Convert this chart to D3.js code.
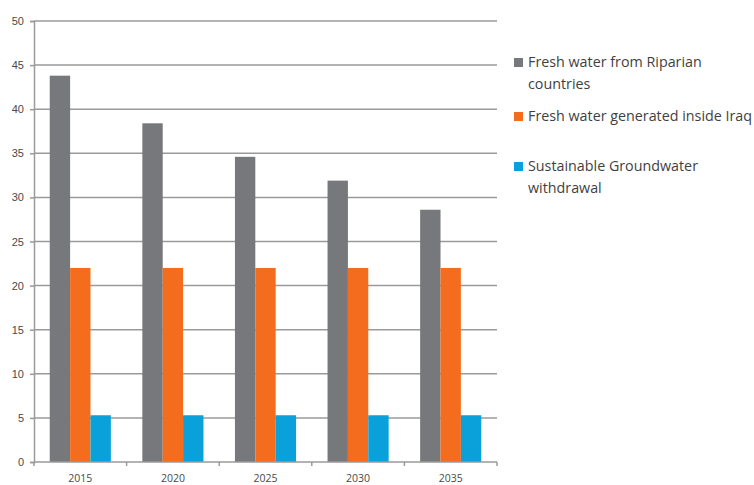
<!DOCTYPE html>
<html>
<head>
<meta charset="utf-8">
<script src="https://cdn.jsdelivr.net/npm/d3@7"></script>
<style>
  body { margin: 0; background: #fff; }
  svg { display: block; font-family: "Open Sans", "DejaVu Sans", sans-serif; }
</style>
</head>
<body>
<svg id="chart" width="754" height="485"></svg>
<script>
// chart values
const years = ['2015', '2020', '2025', '2030', '2035']
const riparian = [43.8, 38.4, 34.6, 31.9, 28.6]
const insideIraq = [22, 22, 22, 22, 22]
const groundwater = [5.3, 5.3, 5.3, 5.3, 5.3]
const yTicks = [0, 5, 10, 15, 20, 25, 30, 35, 40, 45, 50]

const seriesNames = [
  ['Fresh water from Riparian', 'countries'],
  ['Fresh water generated inside Iraq'],
  ['Sustainable Groundwater', 'withdrawal']
]
const seriesValues = [riparian, insideIraq, groundwater]
const colors = ['#77787b', '#f46d1e', '#0aa0da']

const margin = { top: 21, left: 34 },
  plotW = 463,
  plotH = 441

const svg = d3.select('#chart')
const g = svg.append('g').attr('transform', `translate(${margin.left},${margin.top})`)

const x = d3.scaleBand().domain(years).range([0, plotW]).paddingInner(0.34).paddingOuter(0.17)
const xSub = d3.scaleBand().domain(d3.range(seriesValues.length)).range([0, x.bandwidth()])
const y = d3.scaleLinear().domain([0, 50]).range([plotH, 0])

// gridlines
g.append('g')
  .selectAll('line')
  .data(yTicks.filter(d => d > 0))
  .join('line')
  .attr('x1', 0).attr('x2', plotW)
  .attr('y1', d => y(d)).attr('y2', d => y(d))
  .attr('stroke', '#9a9a9a').attr('stroke-width', 1.5)

// bars
const groups = g.append('g')
  .selectAll('g')
  .data(years)
  .join('g')
  .attr('transform', d => `translate(${x(d)},0)`)

groups.selectAll('rect')
  .data((yr, i) => seriesValues.map((s, k) => ({ k, v: s[i] })))
  .join('rect')
  .attr('x', d => xSub(d.k))
  .attr('width', xSub.bandwidth())
  .attr('y', d => y(d.v))
  .attr('height', d => plotH - y(d.v))
  .attr('fill', d => colors[d.k])

// y axis
const yAxis = g.append('g')
  .call(d3.axisLeft(y).tickValues(yTicks).tickSize(4).tickPadding(6))
yAxis.select('.domain').attr('stroke', '#9a9a9a').attr('stroke-width', 1.5)
yAxis.selectAll('.tick line').attr('stroke', '#9a9a9a').attr('stroke-width', 1.5)
yAxis.selectAll('text').attr('fill', '#4a4a4a').style('font-size', '11px')

// x axis (ticks sit at category boundaries)
const xAxisG = g.append('g').attr('transform', `translate(0,${plotH})`)
xAxisG.append('line')
  .attr('x1', 0).attr('x2', plotW)
  .attr('stroke', '#9a9a9a').attr('stroke-width', 1.5)
const step = plotW / years.length
xAxisG.selectAll('line.tk')
  .data(d3.range(years.length + 1))
  .join('line')
  .attr('class', 'tk')
  .attr('x1', d => d * step).attr('x2', d => d * step)
  .attr('y1', 0).attr('y2', 4)
  .attr('stroke', '#9a9a9a').attr('stroke-width', 1.5)
xAxisG.selectAll('text')
  .data(years)
  .join('text')
  .attr('x', d => x(d) + x.bandwidth() / 2)
  .attr('y', 20)
  .attr('text-anchor', 'middle')
  .attr('fill', '#4a4a4a')
  .style('font-size', '10.5px')
  .text(d => d)

// legend
const legendY = [62, 116, 166]
const legend = svg.append('g').attr('transform', 'translate(514,0)')
seriesNames.forEach((lines, i) => {
  legend.append('rect')
    .attr('x', 0).attr('y', legendY[i] - 4)
    .attr('width', 9).attr('height', 9)
    .attr('fill', colors[i])
  lines.forEach((t, j) => {
    legend.append('text')
      .attr('x', 14).attr('y', legendY[i] + j * 22 + 5)
      .attr('fill', '#3f3f3f')
      .style('font-size', '14.3px')
      .text(t)
  })
})
</script>
</body>
</html>
